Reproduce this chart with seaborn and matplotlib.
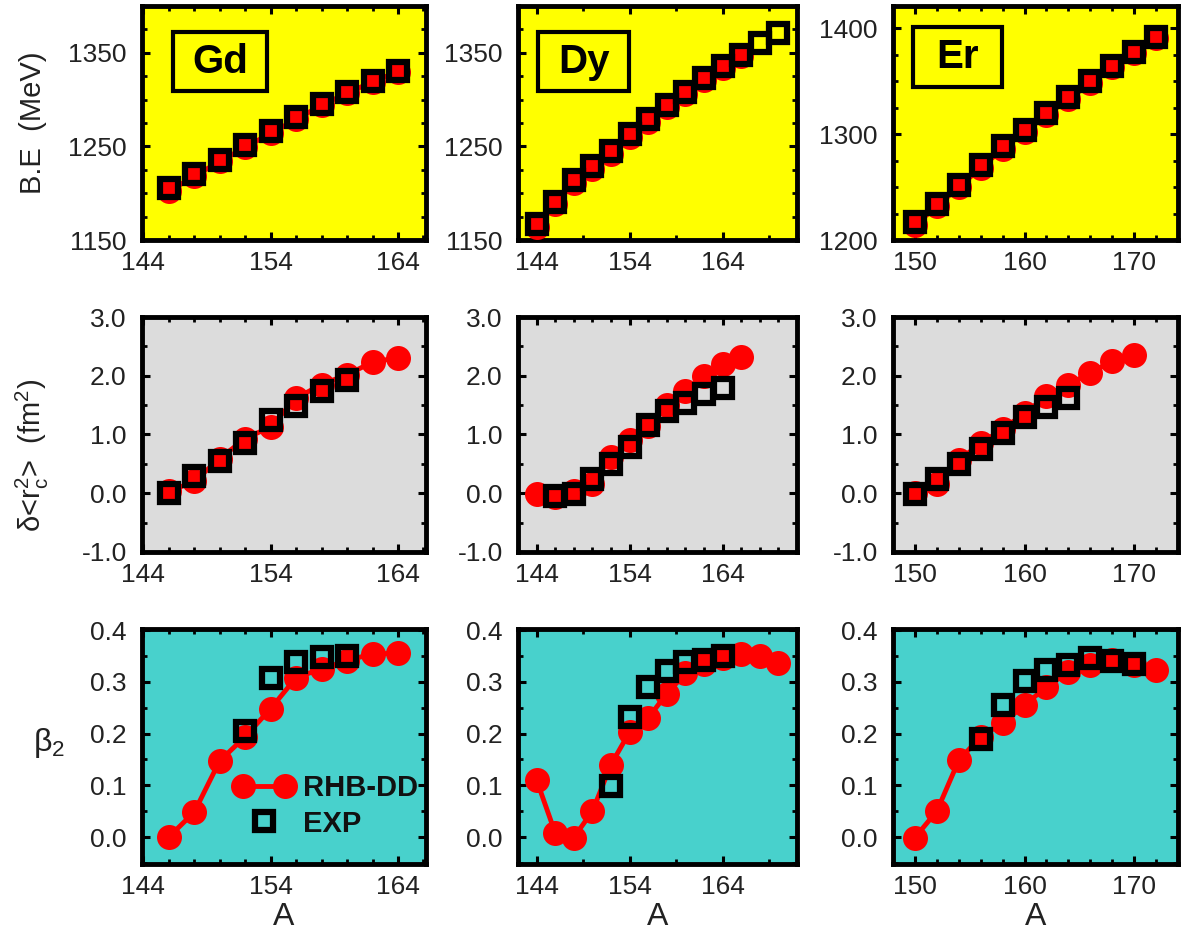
import numpy as np
import pandas as pd
import matplotlib
matplotlib.use("Agg")
import matplotlib.pyplot as plt
import seaborn as sns
from matplotlib.ticker import MultipleLocator, FixedLocator
from matplotlib.legend_handler import HandlerLine2D
from matplotlib.patches import Rectangle

# ---------------- data ----------------
elements = ["Gd", "Dy", "Er"]

# Gd
gd_be_A_th = [146, 148, 150, 152, 154, 156, 158, 160, 162, 164]
gd_be_th = [1202, 1218, 1234, 1249, 1264, 1279, 1294, 1307, 1319, 1330]
gd_be_A_exp = [146, 148, 150, 152, 154, 156, 158, 160, 162, 164]
gd_be_exp = [1206, 1221, 1236, 1252, 1266, 1281, 1295, 1308, 1320, 1331]
gd_r_A_th = [146, 148, 150, 152, 154, 156, 158, 160, 162, 164]
gd_r_th = [0.03, 0.20, 0.59, 0.93, 1.13, 1.62, 1.85, 2.02, 2.23, 2.31]
gd_r_A_exp = [146, 148, 150, 152, 154, 156, 158, 160]
gd_r_exp = [0.00, 0.29, 0.55, 0.86, 1.25, 1.48, 1.74, 1.92]
gd_b2_A_th = [146, 148, 150, 152, 154, 156, 158, 160, 162, 164]
gd_b2_th = [0.000, 0.048, 0.147, 0.194, 0.248, 0.308, 0.325, 0.341, 0.354, 0.355]
gd_b2_A_exp = [152, 154, 156, 158, 160]
gd_b2_exp = [0.205, 0.308, 0.339, 0.347, 0.350]

# Dy
dy_be_A_th = [144, 146, 148, 150, 152, 154, 156, 158, 160, 162, 164, 166]
dy_be_th = [1164, 1188, 1211, 1226, 1242, 1260, 1276, 1292, 1306, 1321, 1334, 1347]
dy_be_A_exp = [144, 146, 148, 150, 152, 154, 156, 158, 160, 162, 164, 166, 168, 170]
dy_be_exp = [1167, 1191, 1214, 1229, 1245, 1263, 1279, 1294, 1308, 1323, 1336, 1348, 1360, 1371]
dy_r_A_th = [144, 146, 148, 150, 152, 154, 156, 158, 160, 162, 164, 166]
dy_r_th = [-0.01, -0.07, 0.03, 0.16, 0.62, 0.90, 1.14, 1.51, 1.74, 2.00, 2.20, 2.32]
dy_r_A_exp = [146, 148, 150, 152, 154, 156, 158, 160, 162, 164]
dy_r_exp = [-0.04, -0.01, 0.25, 0.50, 0.79, 1.17, 1.40, 1.54, 1.69, 1.80]
dy_b2_A_th = [144, 146, 148, 150, 152, 154, 156, 158, 160, 162, 164, 166, 168, 170]
dy_b2_th = [0.110, 0.008, -0.001, 0.050, 0.140, 0.203, 0.230, 0.277, 0.316, 0.334,
            0.345, 0.353, 0.349, 0.337]
dy_b2_A_exp = [152, 154, 156, 158, 160, 162, 164]
dy_b2_exp = [0.098, 0.231, 0.290, 0.320, 0.339, 0.342, 0.350]

# Er
er_be_A_th = [150, 152, 154, 156, 158, 160, 162, 164, 166, 168, 170, 172]
er_be_th = [1214, 1232, 1250, 1268, 1286, 1302, 1318, 1333, 1348, 1363, 1377, 1391]
er_be_A_exp = [150, 152, 154, 156, 158, 160, 162, 164, 166, 168, 170, 172]
er_be_exp = [1217, 1234, 1252, 1271, 1289, 1304, 1320, 1335, 1350, 1364, 1378, 1392]
er_r_A_th = [150, 152, 154, 156, 158, 160, 162, 164, 166, 168, 170]
er_r_th = [0.00, 0.16, 0.56, 0.85, 1.09, 1.36, 1.65, 1.85, 2.05, 2.25, 2.36]
er_r_A_exp = [150, 152, 154, 156, 158, 160, 162, 164]
er_r_exp = [-0.01, 0.24, 0.50, 0.75, 1.03, 1.30, 1.47, 1.62]
er_b2_A_th = [150, 152, 154, 156, 158, 160, 162, 164, 166, 168, 170, 172]
er_b2_th = [-0.001, 0.050, 0.148, 0.194, 0.220, 0.255, 0.290, 0.319, 0.332, 0.342, 0.332, 0.323]
er_b2_A_exp = [156, 158, 160, 162, 164, 166, 168, 170]
er_b2_exp = [0.189, 0.256, 0.301, 0.322, 0.332, 0.345, 0.340, 0.335]

# tick labels / ranges
x_major = {"Gd": [144, 154, 164], "Dy": [144, 154, 164], "Er": [150, 160, 170]}
be_ticks = {"Gd": [1150, 1250, 1350], "Dy": [1150, 1250, 1350], "Er": [1200, 1300, 1400]}
r_ticks = [-1.0, 0.0, 1.0, 2.0, 3.0]
b2_ticks = [0.0, 0.1, 0.2, 0.3, 0.4]
legend_labels = ["RHB-DD", "EXP"]

panels = {
    "Gd": [(gd_be_A_th, gd_be_th, gd_be_A_exp, gd_be_exp),
           (gd_r_A_th, gd_r_th, gd_r_A_exp, gd_r_exp),
           (gd_b2_A_th, gd_b2_th, gd_b2_A_exp, gd_b2_exp)],
    "Dy": [(dy_be_A_th, dy_be_th, dy_be_A_exp, dy_be_exp),
           (dy_r_A_th, dy_r_th, dy_r_A_exp, dy_r_exp),
           (dy_b2_A_th, dy_b2_th, dy_b2_A_exp, dy_b2_exp)],
    "Er": [(er_be_A_th, er_be_th, er_be_A_exp, er_be_exp),
           (er_r_A_th, er_r_th, er_r_A_exp, er_r_exp),
           (er_b2_A_th, er_b2_th, er_b2_A_exp, er_b2_exp)],
}

# ---------------- style ----------------
sns.set_theme(style="ticks")
plt.rcParams["font.family"] = ["Liberation Sans", "DejaVu Sans"]
plt.rcParams["mathtext.fontset"] = "custom"
plt.rcParams["mathtext.rm"] = "Liberation Sans"

fig = plt.figure(figsize=(11.87, 9.31), dpi=100)

col_pos = {"Gd": (0.1196, 0.2393), "Dy": (0.4364, 0.2350), "Er": (0.7523, 0.2401)}
row_pos = [(0.7422, 0.2513), (0.4071, 0.2524), (0.0720, 0.2524)]
xlims = {"Gd": (143.9, 166.2), "Dy": (142.0, 172.0), "Er": (148.0, 174.0)}
ylims_row = [None, (-1.0, 3.0), (-0.052, 0.402)]
be_ylims = {"Gd": (1150, 1400), "Dy": (1150, 1400), "Er": (1200, 1421)}
bg = ["#FFFF00", "#DCDCDC", "#48D1CC"]
tick_color = "#222222"


class RightMarkerHandler(HandlerLine2D):
    def get_xdata(self, legend, xdescent, ydescent, width, height, fontsize):
        pad = 0.3 * fontsize
        xdata = np.array([-xdescent, -xdescent + width])
        xmark = np.array([-xdescent + width - pad])
        return xdata, xmark


box_geom = {"Gd": (0.109, 0.637, 0.331, 0.252),
            "Dy": (0.072, 0.637, 0.326, 0.252),
            "Er": (0.070, 0.655, 0.312, 0.254)}

for el in elements:
    x0, w = col_pos[el]
    for r in range(3):
        y0, h = row_pos[r]
        ax = fig.add_axes([x0, y0, w, h])
        ax.set_facecolor(bg[r])
        A_th, v_th, A_ex, v_ex = panels[el][r]
        df_th = pd.DataFrame({"A": A_th, "v": v_th})
        df_ex = pd.DataFrame({"A": A_ex, "v": v_ex})
        is_leg = (el == "Gd" and r == 2)
        sns.lineplot(data=df_th, x="A", y="v", ax=ax, color="#FF0000", lw=3.5,
                     marker="o", ms=18, mew=0, mec="#FF0000",
                     label=legend_labels[0] if is_leg else None, zorder=3)
        sns.lineplot(data=df_ex, x="A", y="v", ax=ax, linestyle="", marker="s",
                     ms=12.5, mfc="none", mec="black", mew=4.5, color="black",
                     label=legend_labels[1] if is_leg else None, zorder=4)
        ax.set_xlabel("")
        ax.set_ylabel("")
        ax.set_xlim(*xlims[el])
        ax.xaxis.set_major_locator(FixedLocator(x_major[el]))
        if el == "Dy" and r != 1:
            ax.xaxis.set_minor_locator(FixedLocator(np.arange(144, 172, 5)))
        else:
            ax.xaxis.set_minor_locator(MultipleLocator(2))
        if r == 0:
            ax.set_ylim(*be_ylims[el])
            ax.yaxis.set_major_locator(FixedLocator(be_ticks[el]))
            ax.yaxis.set_minor_locator(MultipleLocator(25))
        elif r == 1:
            ax.set_ylim(*ylims_row[1])
            ax.yaxis.set_major_locator(FixedLocator(r_ticks))
            ax.yaxis.set_minor_locator(MultipleLocator(0.5))
            ax.set_yticklabels([f"{t:.1f}" for t in r_ticks])
        else:
            ax.set_ylim(*ylims_row[2])
            ax.yaxis.set_major_locator(FixedLocator(b2_ticks))
            ax.yaxis.set_minor_locator(MultipleLocator(0.05))
            ax.set_yticklabels([f"{t:.1f}" for t in b2_ticks])
        for s in ax.spines.values():
            s.set_linewidth(3.5)
            s.set_color("black")
            s.set_visible(True)
        ax.tick_params(which="both", direction="in", top=True, right=True,
                       color="black", labelcolor=tick_color)
        ax.tick_params(which="major", length=5.5, width=2.2, labelsize=19, pad=8)
        ax.tick_params(axis="y", which="major", pad=11)
        ax.tick_params(which="minor", length=3.5, width=2.0)

        if r == 0:
            bx, by, bw, bh = box_geom[el]
            ax.add_patch(Rectangle((bx, by), bw, bh, transform=ax.transAxes,
                                   fill=False, ec="black", lw=3, zorder=5))
            ax.text(bx + bw / 2, by + bh / 2, el, transform=ax.transAxes,
                    ha="center", va="center", fontsize=29, fontweight="bold",
                    color="black", zorder=6)
        if r == 2:
            ax.set_xlabel("A", fontsize=23, color=tick_color)
            ax.xaxis.set_label_coords(0.5, -0.16)
        if el == "Gd":
            if r == 0:
                ax.set_ylabel("B.E  (MeV)", fontsize=21, color=tick_color)
                ax.yaxis.set_label_coords(-0.335, 0.5)
            elif r == 1:
                ax.set_ylabel(r"δ<r$\mathregular{_c^2}$>  (fm$\mathregular{^2}$)",
                              fontsize=21, color=tick_color)
                ax.yaxis.set_label_coords(-0.32, 0.41)
            else:
                ax.set_ylabel(r"β$\mathregular{_2}$", fontsize=23, color=tick_color,
                              rotation=0, ha="center", va="center")
                ax.yaxis.set_label_coords(-0.327, 0.515)
        if is_leg:
            handles, labels = ax.get_legend_handles_labels()
            hmap = {handles[1]: RightMarkerHandler(numpoints=1),
                    handles[0]: HandlerLine2D(numpoints=2)}
            leg = ax.legend(handles, labels, handler_map=hmap, frameon=False,
                            loc="center left", bbox_to_anchor=(0.324, 0.247),
                            borderpad=0, borderaxespad=0, handlelength=2.04,
                            handletextpad=0.33, labelspacing=0.25,
                            prop={"size": 21, "weight": "bold"})
            for t in leg.get_texts():
                t.set_color("#111111")
        else:
            lg = ax.get_legend()
            if lg is not None:
                lg.remove()

fig.savefig("out.png", dpi=100)
